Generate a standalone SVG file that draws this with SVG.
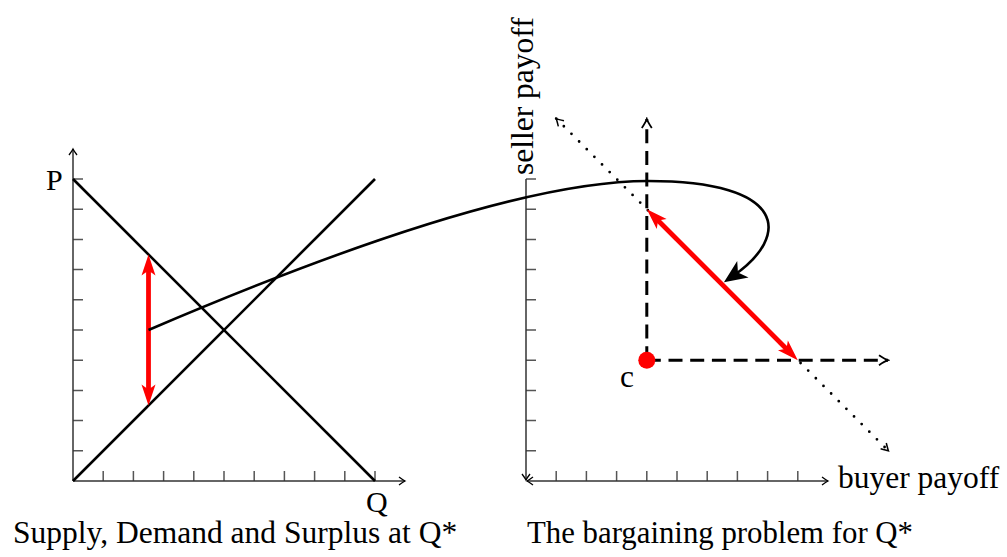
<svg xmlns="http://www.w3.org/2000/svg" width="1007" height="557" viewBox="0 0 1007 557">
<style>
.axis{stroke:#333;stroke-width:1.5;fill:none}
.tick{stroke:#555;stroke-width:1.5;fill:none}
.blk{stroke:#000;stroke-width:2.6;fill:none}
.red{stroke:#f00;stroke-width:4.8;fill:none}
.dash{stroke:#000;stroke-width:3;fill:none;stroke-dasharray:14 7.7}
.dot{stroke:#000;stroke-width:2.8;fill:none;stroke-dasharray:0 10.8;stroke-linecap:round}
text{font-family:"Liberation Serif","Times New Roman",serif;fill:#000}
.lbl{font-size:31.5px}
.lbl2{font-size:30.8px}
.al{font-size:31.5px}
.ax{font-size:30px}
</style>
<defs>
<marker id="axArrow" markerUnits="userSpaceOnUse" viewBox="-8 -6 10 12" markerWidth="10" markerHeight="12" refX="0" refY="0" orient="auto-start-reverse">
<path d="M-6,-4 Q-2,-1 0,0 Q-2,1 -6,4" fill="none" stroke="#000" stroke-width="1.3"/>
</marker>
<marker id="dashArrow" markerUnits="userSpaceOnUse" viewBox="-11 -7 13 14" markerWidth="13" markerHeight="14" refX="0" refY="0" orient="auto-start-reverse">
<path d="M-9,-5 Q-3,-1 0,0 Q-3,1 -9,5" fill="none" stroke="#000" stroke-width="1.8"/>
</marker>
<marker id="dotArrow" markerUnits="userSpaceOnUse" viewBox="-9 -6 11 12" markerWidth="11" markerHeight="12" refX="0" refY="0" orient="auto-start-reverse">
<path d="M-7,-4 Q-2,-1 0,0 Q-2,1 -7,4" fill="none" stroke="#000" stroke-width="1.5"/>
</marker>
<marker id="redHead" markerUnits="userSpaceOnUse" viewBox="-10 -8 24 16" markerWidth="24" markerHeight="16" refX="0" refY="0" orient="auto-start-reverse">
<path d="M12,0 L-9,-7 L-4,0 L-9,7 Z" fill="#f00"/>
</marker>
<marker id="blackHead" markerUnits="userSpaceOnUse" viewBox="-14 -11 26 22" markerWidth="26" markerHeight="22" refX="0" refY="0" orient="auto">
<path d="M11,0 L-12,-10 L-6,0 L-12,10 Z" fill="#000"/>
</marker>
</defs>

<g id="left-axes">
<path class="tick" d="M73,450.8h10M73,420.6h10M73,390.4h10M73,360.2h10M73,330h10M73,299.8h10M73,269.6h10M73,239.4h10M73,209.2h10M73,179h10"/>
<path class="tick" d="M103.2,481v-10M133.4,481v-10M163.6,481v-10M193.8,481v-10M224,481v-10M254.2,481v-10M284.4,481v-10M314.6,481v-10M344.8,481v-10M375,481v-10"/>
<path class="axis" d="M73,481V149" marker-end="url(#axArrow)"/>
<path class="axis" d="M73,481H405" marker-end="url(#axArrow)"/>
<text class="ax" x="46" y="190">P</text>
<text class="ax" x="366" y="512">Q</text>
</g>

<g id="demand">
<path class="blk" d="M73,179L375,481"/>
</g>
<g id="supply">
<path class="blk" d="M73,481L375,179"/>
</g>
<g id="surplus">
<path class="red" d="M148.5,266.5V393.5" marker-start="url(#redHead)" marker-end="url(#redHead)"/>
</g>

<g id="right-axes">
<path class="tick" d="M526,450.8h10M526,420.6h10M526,390.4h10M526,360.2h10M526,330h10M526,299.8h10M526,269.6h10M526,239.4h10M526,209.2h10M526,179h10"/>
<path class="tick" d="M556.2,481v-10M586.4,481v-10M616.6,481v-10M646.8,481v-10M677,481v-10M707.2,481v-10M737.4,481v-10M767.6,481v-10M797.8,481v-10"/>
<path class="axis" d="M526,179V480" marker-end="url(#axArrow)"/>
<path class="axis" d="M527,481H828" marker-start="url(#axArrow)" marker-end="url(#axArrow)"/>
<text class="al" x="838" y="488">buyer payoff</text>
<text class="al" x="533" y="175" transform="rotate(-90 533 175)">seller payoff</text>
</g>

<g id="frontier">
<path class="dot" d="M556.2,118.6L888.4,450.8" marker-start="url(#dotArrow)" marker-end="url(#dotArrow)"/>
</g>
<g id="threat-axes">
<path class="dash" d="M646.8,360.2V119" marker-end="url(#dashArrow)"/>
<path class="dash" d="M646.8,360.2H888" marker-end="url(#dashArrow)"/>
</g>
<g id="bargain-range">
<path class="red" d="M655.3,217.7L789.3,351.7" marker-start="url(#redHead)" marker-end="url(#redHead)"/>
</g>
<g id="c">
<circle cx="646.8" cy="360.2" r="8.5" fill="#f00"/>
<text class="al" x="620" y="387">c</text>
</g>

<g id="connectors">
<path class="blk" d="M148.5,330C333,251 528,181 648,181C788,181 791,236 733,276" marker-end="url(#blackHead)"/>
</g>

<text class="lbl" x="13" y="543">Supply, Demand and Surplus at Q*</text>
<text class="lbl2" x="527" y="543">The bargaining problem for Q*</text>
</svg>
